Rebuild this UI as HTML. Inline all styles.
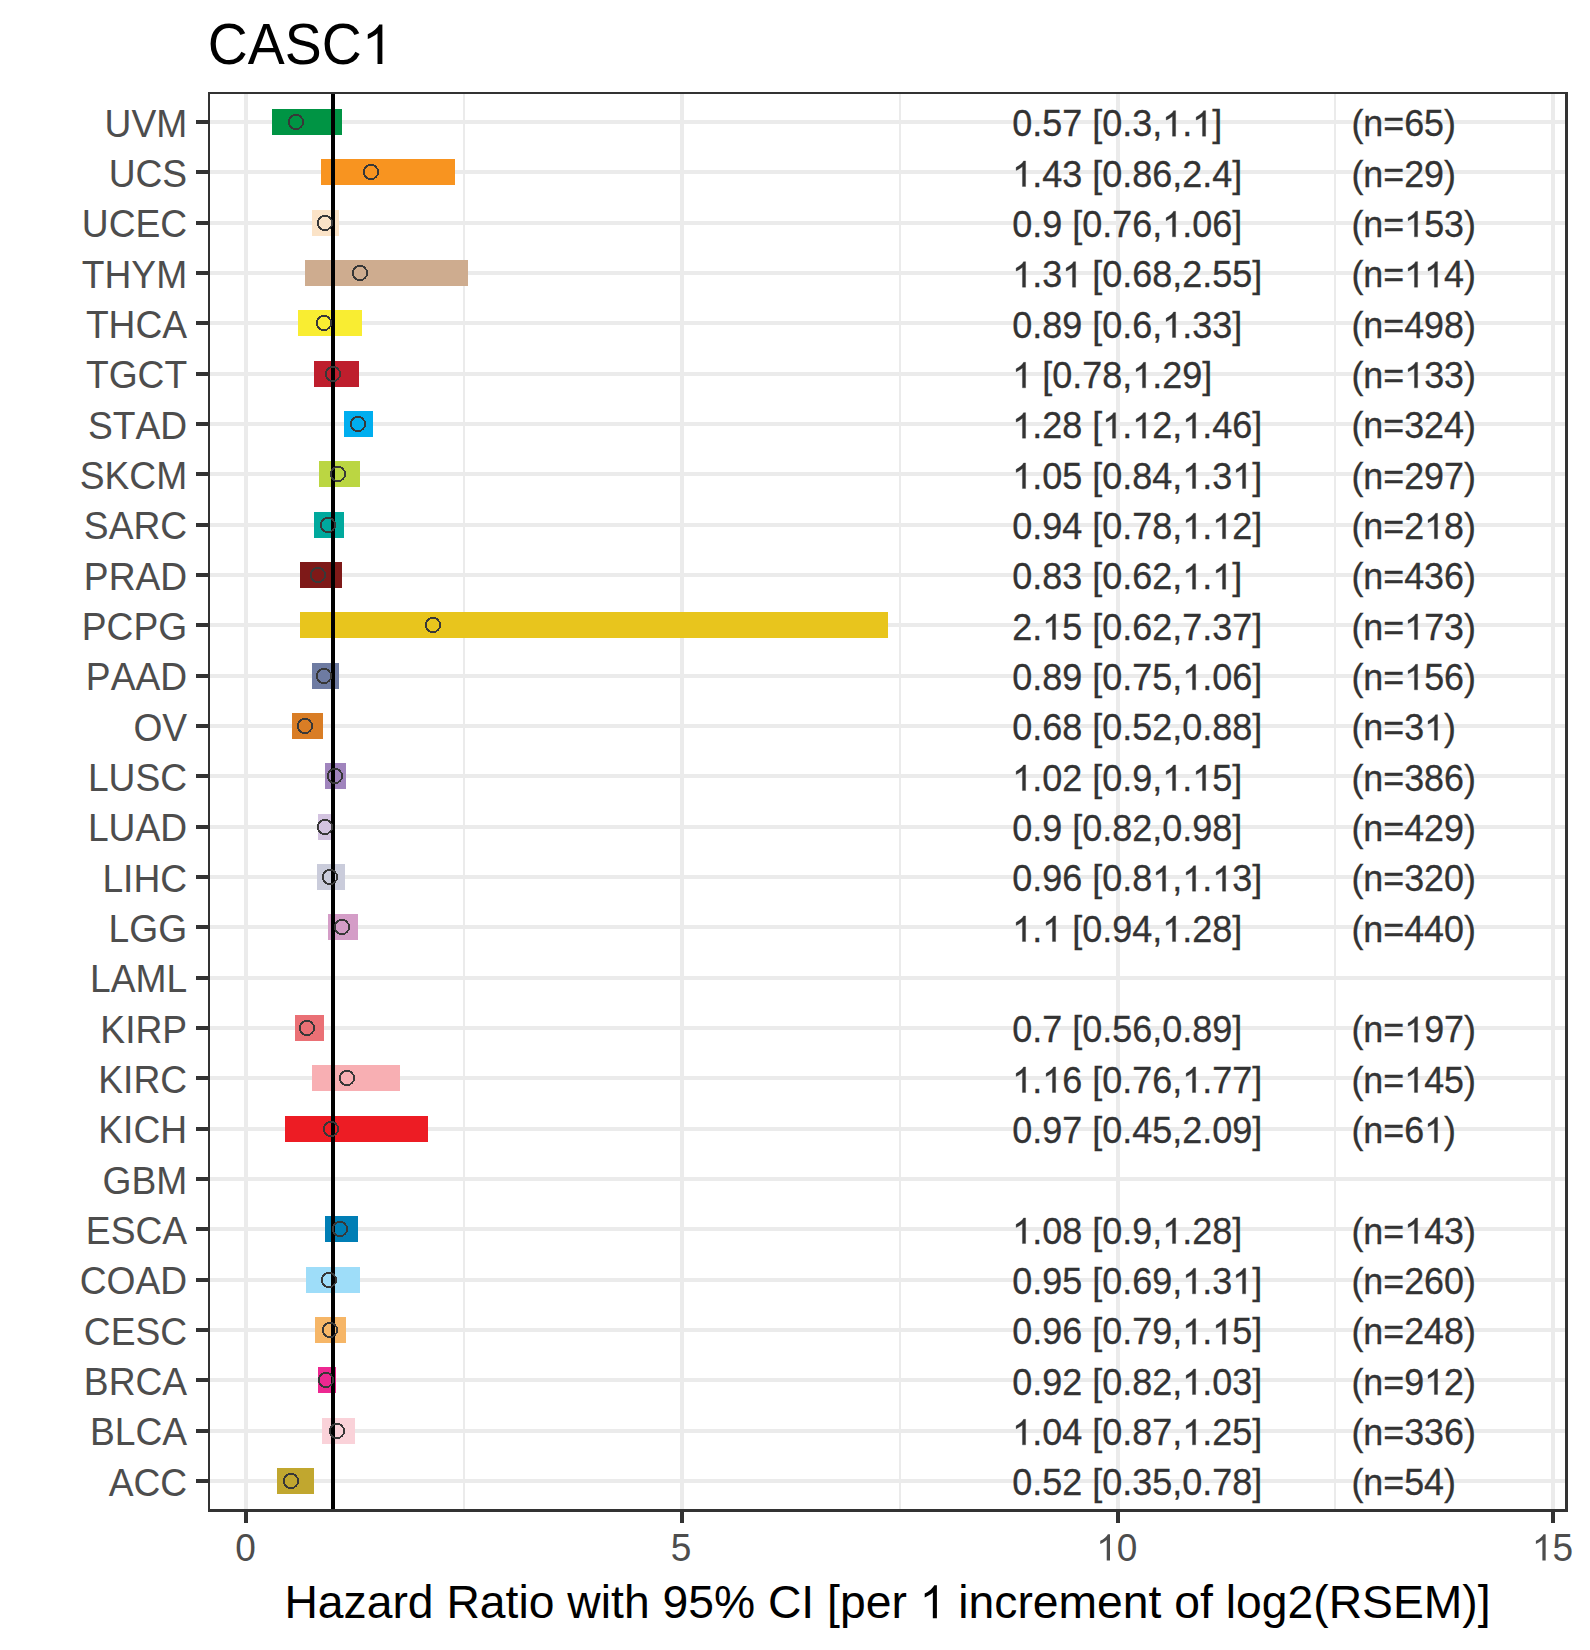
<!DOCTYPE html>
<html><head><meta charset="utf-8"><title>CASC1</title>
<style>
html,body{margin:0;padding:0;background:#fff;}
body{width:1590px;height:1650px;overflow:hidden;}
svg{display:block;}
text{font-family:"Liberation Sans",sans-serif;font-kerning:none;}
.ax{font-size:36.67px;fill:#4d4d4d;}
.an{font-size:35.57px;fill:#333333;stroke:#333333;stroke-width:0.3px;}
</style></head><body>
<svg width="1590" height="1650" viewBox="0 0 1590 1650">
<rect x="0" y="0" width="1590" height="1650" fill="#ffffff"/>
<g fill="#ebebeb" shape-rendering="crispEdges">
<rect x="463.00" y="94" width="2" height="1416"/>
<rect x="899.00" y="94" width="2" height="1416"/>
<rect x="1334.00" y="94" width="2" height="1416"/>
<rect x="244.00" y="94" width="4" height="1416"/>
<rect x="680.00" y="94" width="4" height="1416"/>
<rect x="1116.00" y="94" width="4" height="1416"/>
<rect x="1551.00" y="94" width="4" height="1416"/>
<rect x="210" y="120.00" width="1356" height="4"/>
<rect x="210" y="170.00" width="1356" height="4"/>
<rect x="210" y="221.00" width="1356" height="4"/>
<rect x="210" y="271.00" width="1356" height="4"/>
<rect x="210" y="321.00" width="1356" height="4"/>
<rect x="210" y="372.00" width="1356" height="4"/>
<rect x="210" y="422.00" width="1356" height="4"/>
<rect x="210" y="472.00" width="1356" height="4"/>
<rect x="210" y="523.00" width="1356" height="4"/>
<rect x="210" y="573.00" width="1356" height="4"/>
<rect x="210" y="623.00" width="1356" height="4"/>
<rect x="210" y="674.00" width="1356" height="4"/>
<rect x="210" y="724.00" width="1356" height="4"/>
<rect x="210" y="774.00" width="1356" height="4"/>
<rect x="210" y="825.00" width="1356" height="4"/>
<rect x="210" y="875.00" width="1356" height="4"/>
<rect x="210" y="925.00" width="1356" height="4"/>
<rect x="210" y="976.00" width="1356" height="4"/>
<rect x="210" y="1026.00" width="1356" height="4"/>
<rect x="210" y="1076.00" width="1356" height="4"/>
<rect x="210" y="1127.00" width="1356" height="4"/>
<rect x="210" y="1177.00" width="1356" height="4"/>
<rect x="210" y="1227.00" width="1356" height="4"/>
<rect x="210" y="1278.00" width="1356" height="4"/>
<rect x="210" y="1328.00" width="1356" height="4"/>
<rect x="210" y="1378.00" width="1356" height="4"/>
<rect x="210" y="1429.00" width="1356" height="4"/>
<rect x="210" y="1479.00" width="1356" height="4"/>
</g>
<g shape-rendering="crispEdges">
<rect x="272" y="109" width="70" height="26" fill="#009444"/>
<rect x="321" y="159" width="134" height="26" fill="#F89420"/>
<rect x="312" y="210" width="27" height="26" fill="#FBE3C7"/>
<rect x="305" y="260" width="163" height="26" fill="#CEAC8F"/>
<rect x="298" y="310" width="64" height="26" fill="#F9ED32"/>
<rect x="314" y="361" width="45" height="26" fill="#BE1E2D"/>
<rect x="344" y="411" width="29" height="26" fill="#00AEEF"/>
<rect x="319" y="461" width="41" height="26" fill="#BBD642"/>
<rect x="314" y="512" width="30" height="26" fill="#00A99D"/>
<rect x="300" y="562" width="42" height="26" fill="#7E1918"/>
<rect x="300" y="612" width="588" height="26" fill="#E8C51D"/>
<rect x="312" y="663" width="27" height="26" fill="#6E7BA2"/>
<rect x="292" y="713" width="31" height="26" fill="#D97D25"/>
<rect x="325" y="763" width="21" height="26" fill="#A084BD"/>
<rect x="318" y="814" width="14" height="26" fill="#D3C3E0"/>
<rect x="317" y="864" width="28" height="26" fill="#CACCDB"/>
<rect x="328" y="914" width="30" height="26" fill="#D49DC7"/>
<rect x="295" y="1015" width="29" height="26" fill="#EA7075"/>
<rect x="312" y="1065" width="88" height="26" fill="#F8AFB3"/>
<rect x="285" y="1116" width="143" height="26" fill="#ED1C24"/>
<rect x="325" y="1216" width="33" height="26" fill="#007EB5"/>
<rect x="306" y="1267" width="54" height="26" fill="#9EDDF9"/>
<rect x="315" y="1317" width="31" height="26" fill="#F6B667"/>
<rect x="318" y="1367" width="18" height="26" fill="#ED2891"/>
<rect x="322" y="1418" width="33" height="26" fill="#FAD2D9"/>
<rect x="277" y="1468" width="37" height="26" fill="#C1A72F"/>
</g>
<rect x="331.00" y="92" width="4" height="1420" fill="#000" shape-rendering="crispEdges"/>
<g fill="none" stroke="#383838" stroke-width="1.9" shape-rendering="crispEdges">
<circle cx="296" cy="122" r="7.1"/>
<circle cx="371" cy="172" r="7.1"/>
<circle cx="325" cy="223" r="7.1"/>
<circle cx="360" cy="273" r="7.1"/>
<circle cx="324" cy="323" r="7.1"/>
<circle cx="333" cy="374" r="7.1"/>
<circle cx="358" cy="424" r="7.1"/>
<circle cx="338" cy="474" r="7.1"/>
<circle cx="328" cy="525" r="7.1"/>
<circle cx="318" cy="575" r="7.1"/>
<circle cx="433" cy="625" r="7.1"/>
<circle cx="324" cy="676" r="7.1"/>
<circle cx="305" cy="726" r="7.1"/>
<circle cx="335" cy="776" r="7.1"/>
<circle cx="325" cy="827" r="7.1"/>
<circle cx="330" cy="877" r="7.1"/>
<circle cx="342" cy="927" r="7.1"/>
<circle cx="307" cy="1028" r="7.1"/>
<circle cx="347" cy="1078" r="7.1"/>
<circle cx="331" cy="1129" r="7.1"/>
<circle cx="340" cy="1229" r="7.1"/>
<circle cx="329" cy="1280" r="7.1"/>
<circle cx="330" cy="1330" r="7.1"/>
<circle cx="326" cy="1380" r="7.1"/>
<circle cx="337" cy="1431" r="7.1"/>
<circle cx="291" cy="1481" r="7.1"/>
</g>
<g class="an">
<g transform="translate(1012.20,136.20)"><text text-anchor="start" transform="scale(1.0115,1.045)" x="0.00 19.78 29.66 49.45 69.23 79.11 88.99 108.78 118.66 138.44 148.32 168.11 177.99 197.77">0.57 [0.3, . ]</text><path transform="translate(150.03,0) scale(0.01757,-0.01737)" d="M763 0H583V1147Q518 1085 412.5 1023T223 930V1104Q374 1175 487 1276T647 1472H763Z" stroke-width="17.3"/><path transform="translate(180.04,0) scale(0.01757,-0.01737)" d="M763 0H583V1147Q518 1085 412.5 1023T223 930V1104Q374 1175 487 1276T647 1472H763Z" stroke-width="17.3"/></g><text text-anchor="start" transform="translate(1351.40,136.20) scale(1.008,1.045)">(n=65)</text>
<g transform="translate(1012.20,186.53)"><text text-anchor="start" transform="scale(1.0115,1.045)" x="0.00 19.78 29.66 49.45 69.23 79.11 88.99 108.78 118.66 138.44 158.22 168.11 187.89 197.77 217.55"> .43 [0.86,2.4]</text><path transform="translate(0.00,0) scale(0.01757,-0.01737)" d="M763 0H583V1147Q518 1085 412.5 1023T223 930V1104Q374 1175 487 1276T647 1472H763Z" stroke-width="17.3"/></g><text text-anchor="start" transform="translate(1351.40,186.53) scale(1.008,1.045)">(n=29)</text>
<g transform="translate(1012.20,236.87)"><text text-anchor="start" transform="scale(1.0115,1.045)" x="0.00 19.78 29.66 49.45 59.33 69.21 88.99 98.88 118.66 138.44 148.32 168.11 177.99 197.77 217.55">0.9 [0.76, .06]</text><path transform="translate(150.03,0) scale(0.01757,-0.01737)" d="M763 0H583V1147Q518 1085 412.5 1023T223 930V1104Q374 1175 487 1276T647 1472H763Z" stroke-width="17.3"/></g><g transform="translate(1351.40,236.87)"><text text-anchor="start" transform="scale(1.008,1.045)" x="0.00 11.85 31.63 52.40 72.18 91.96 111.75">(n= 53)</text><path transform="translate(52.82,0) scale(0.01751,-0.01737)" d="M763 0H583V1147Q518 1085 412.5 1023T223 930V1104Q374 1175 487 1276T647 1472H763Z" stroke-width="17.3"/></g>
<g transform="translate(1012.20,287.20)"><text text-anchor="start" transform="scale(1.0115,1.045)" x="0.00 19.78 29.66 49.45 69.23 79.11 88.99 108.78 118.66 138.44 158.22 168.11 187.89 197.77 217.55 237.34"> .3  [0.68,2.55]</text><path transform="translate(0.00,0) scale(0.01757,-0.01737)" d="M763 0H583V1147Q518 1085 412.5 1023T223 930V1104Q374 1175 487 1276T647 1472H763Z" stroke-width="17.3"/><path transform="translate(50.02,0) scale(0.01757,-0.01737)" d="M763 0H583V1147Q518 1085 412.5 1023T223 930V1104Q374 1175 487 1276T647 1472H763Z" stroke-width="17.3"/></g><g transform="translate(1351.40,287.20)"><text text-anchor="start" transform="scale(1.008,1.045)" x="0.00 11.85 31.63 52.40 72.18 91.96 111.75">(n=  4)</text><path transform="translate(52.82,0) scale(0.01751,-0.01737)" d="M763 0H583V1147Q518 1085 412.5 1023T223 930V1104Q374 1175 487 1276T647 1472H763Z" stroke-width="17.3"/><path transform="translate(72.76,0) scale(0.01751,-0.01737)" d="M763 0H583V1147Q518 1085 412.5 1023T223 930V1104Q374 1175 487 1276T647 1472H763Z" stroke-width="17.3"/></g>
<g transform="translate(1012.20,337.53)"><text text-anchor="start" transform="scale(1.0115,1.045)" x="0.00 19.78 29.66 49.45 69.23 79.11 88.99 108.78 118.66 138.44 148.32 168.11 177.99 197.77 217.55">0.89 [0.6, .33]</text><path transform="translate(150.03,0) scale(0.01757,-0.01737)" d="M763 0H583V1147Q518 1085 412.5 1023T223 930V1104Q374 1175 487 1276T647 1472H763Z" stroke-width="17.3"/></g><text text-anchor="start" transform="translate(1351.40,337.53) scale(1.008,1.045)">(n=498)</text>
<g transform="translate(1012.20,387.87)"><text text-anchor="start" transform="scale(1.0115,1.045)" x="0.00 19.78 29.66 39.55 59.33 69.21 88.99 108.78 118.66 138.44 148.32 168.11 187.89">  [0.78, .29]</text><path transform="translate(0.00,0) scale(0.01757,-0.01737)" d="M763 0H583V1147Q518 1085 412.5 1023T223 930V1104Q374 1175 487 1276T647 1472H763Z" stroke-width="17.3"/><path transform="translate(120.02,0) scale(0.01757,-0.01737)" d="M763 0H583V1147Q518 1085 412.5 1023T223 930V1104Q374 1175 487 1276T647 1472H763Z" stroke-width="17.3"/></g><g transform="translate(1351.40,387.87)"><text text-anchor="start" transform="scale(1.008,1.045)" x="0.00 11.85 31.63 52.40 72.18 91.96 111.75">(n= 33)</text><path transform="translate(52.82,0) scale(0.01751,-0.01737)" d="M763 0H583V1147Q518 1085 412.5 1023T223 930V1104Q374 1175 487 1276T647 1472H763Z" stroke-width="17.3"/></g>
<g transform="translate(1012.20,438.20)"><text text-anchor="start" transform="scale(1.0115,1.045)" x="0.00 19.78 29.66 49.45 69.23 79.11 88.99 108.78 118.66 138.44 158.22 168.11 187.89 197.77 217.55 237.34"> .28 [ . 2, .46]</text><path transform="translate(0.00,0) scale(0.01757,-0.01737)" d="M763 0H583V1147Q518 1085 412.5 1023T223 930V1104Q374 1175 487 1276T647 1472H763Z" stroke-width="17.3"/><path transform="translate(90.02,0) scale(0.01757,-0.01737)" d="M763 0H583V1147Q518 1085 412.5 1023T223 930V1104Q374 1175 487 1276T647 1472H763Z" stroke-width="17.3"/><path transform="translate(120.02,0) scale(0.01757,-0.01737)" d="M763 0H583V1147Q518 1085 412.5 1023T223 930V1104Q374 1175 487 1276T647 1472H763Z" stroke-width="17.3"/><path transform="translate(170.04,0) scale(0.01757,-0.01737)" d="M763 0H583V1147Q518 1085 412.5 1023T223 930V1104Q374 1175 487 1276T647 1472H763Z" stroke-width="17.3"/></g><text text-anchor="start" transform="translate(1351.40,438.20) scale(1.008,1.045)">(n=324)</text>
<g transform="translate(1012.20,488.53)"><text text-anchor="start" transform="scale(1.0115,1.045)" x="0.00 19.78 29.66 49.45 69.23 79.11 88.99 108.78 118.66 138.44 158.22 168.11 187.89 197.77 217.55 237.34"> .05 [0.84, .3 ]</text><path transform="translate(0.00,0) scale(0.01757,-0.01737)" d="M763 0H583V1147Q518 1085 412.5 1023T223 930V1104Q374 1175 487 1276T647 1472H763Z" stroke-width="17.3"/><path transform="translate(170.04,0) scale(0.01757,-0.01737)" d="M763 0H583V1147Q518 1085 412.5 1023T223 930V1104Q374 1175 487 1276T647 1472H763Z" stroke-width="17.3"/><path transform="translate(220.06,0) scale(0.01757,-0.01737)" d="M763 0H583V1147Q518 1085 412.5 1023T223 930V1104Q374 1175 487 1276T647 1472H763Z" stroke-width="17.3"/></g><text text-anchor="start" transform="translate(1351.40,488.53) scale(1.008,1.045)">(n=297)</text>
<g transform="translate(1012.20,538.87)"><text text-anchor="start" transform="scale(1.0115,1.045)" x="0.00 19.78 29.66 49.45 69.23 79.11 88.99 108.78 118.66 138.44 158.22 168.11 187.89 197.77 217.55 237.34">0.94 [0.78, . 2]</text><path transform="translate(170.04,0) scale(0.01757,-0.01737)" d="M763 0H583V1147Q518 1085 412.5 1023T223 930V1104Q374 1175 487 1276T647 1472H763Z" stroke-width="17.3"/><path transform="translate(200.05,0) scale(0.01757,-0.01737)" d="M763 0H583V1147Q518 1085 412.5 1023T223 930V1104Q374 1175 487 1276T647 1472H763Z" stroke-width="17.3"/></g><g transform="translate(1351.40,538.87)"><text text-anchor="start" transform="scale(1.008,1.045)" x="0.00 11.85 31.63 52.40 72.18 91.96 111.75">(n=2 8)</text><path transform="translate(72.76,0) scale(0.01751,-0.01737)" d="M763 0H583V1147Q518 1085 412.5 1023T223 930V1104Q374 1175 487 1276T647 1472H763Z" stroke-width="17.3"/></g>
<g transform="translate(1012.20,589.20)"><text text-anchor="start" transform="scale(1.0115,1.045)" x="0.00 19.78 29.66 49.45 69.23 79.11 88.99 108.78 118.66 138.44 158.22 168.11 187.89 197.77 217.55">0.83 [0.62, . ]</text><path transform="translate(170.04,0) scale(0.01757,-0.01737)" d="M763 0H583V1147Q518 1085 412.5 1023T223 930V1104Q374 1175 487 1276T647 1472H763Z" stroke-width="17.3"/><path transform="translate(200.05,0) scale(0.01757,-0.01737)" d="M763 0H583V1147Q518 1085 412.5 1023T223 930V1104Q374 1175 487 1276T647 1472H763Z" stroke-width="17.3"/></g><text text-anchor="start" transform="translate(1351.40,589.20) scale(1.008,1.045)">(n=436)</text>
<g transform="translate(1012.20,639.53)"><text text-anchor="start" transform="scale(1.0115,1.045)" x="0.00 19.78 29.66 49.45 69.23 79.11 88.99 108.78 118.66 138.44 158.22 168.11 187.89 197.77 217.55 237.34">2. 5 [0.62,7.37]</text><path transform="translate(30.01,0) scale(0.01757,-0.01737)" d="M763 0H583V1147Q518 1085 412.5 1023T223 930V1104Q374 1175 487 1276T647 1472H763Z" stroke-width="17.3"/></g><g transform="translate(1351.40,639.53)"><text text-anchor="start" transform="scale(1.008,1.045)" x="0.00 11.85 31.63 52.40 72.18 91.96 111.75">(n= 73)</text><path transform="translate(52.82,0) scale(0.01751,-0.01737)" d="M763 0H583V1147Q518 1085 412.5 1023T223 930V1104Q374 1175 487 1276T647 1472H763Z" stroke-width="17.3"/></g>
<g transform="translate(1012.20,689.87)"><text text-anchor="start" transform="scale(1.0115,1.045)" x="0.00 19.78 29.66 49.45 69.23 79.11 88.99 108.78 118.66 138.44 158.22 168.11 187.89 197.77 217.55 237.34">0.89 [0.75, .06]</text><path transform="translate(170.04,0) scale(0.01757,-0.01737)" d="M763 0H583V1147Q518 1085 412.5 1023T223 930V1104Q374 1175 487 1276T647 1472H763Z" stroke-width="17.3"/></g><g transform="translate(1351.40,689.87)"><text text-anchor="start" transform="scale(1.008,1.045)" x="0.00 11.85 31.63 52.40 72.18 91.96 111.75">(n= 56)</text><path transform="translate(52.82,0) scale(0.01751,-0.01737)" d="M763 0H583V1147Q518 1085 412.5 1023T223 930V1104Q374 1175 487 1276T647 1472H763Z" stroke-width="17.3"/></g>
<text text-anchor="start" transform="translate(1012.20,740.20) scale(1.0115,1.045)">0.68 [0.52,0.88]</text><g transform="translate(1351.40,740.20)"><text text-anchor="start" transform="scale(1.008,1.045)" x="0.00 11.85 31.63 52.40 72.18 91.96">(n=3 )</text><path transform="translate(72.76,0) scale(0.01751,-0.01737)" d="M763 0H583V1147Q518 1085 412.5 1023T223 930V1104Q374 1175 487 1276T647 1472H763Z" stroke-width="17.3"/></g>
<g transform="translate(1012.20,790.53)"><text text-anchor="start" transform="scale(1.0115,1.045)" x="0.00 19.78 29.66 49.45 69.23 79.11 88.99 108.78 118.66 138.44 148.32 168.11 177.99 197.77 217.55"> .02 [0.9, . 5]</text><path transform="translate(0.00,0) scale(0.01757,-0.01737)" d="M763 0H583V1147Q518 1085 412.5 1023T223 930V1104Q374 1175 487 1276T647 1472H763Z" stroke-width="17.3"/><path transform="translate(150.03,0) scale(0.01757,-0.01737)" d="M763 0H583V1147Q518 1085 412.5 1023T223 930V1104Q374 1175 487 1276T647 1472H763Z" stroke-width="17.3"/><path transform="translate(180.04,0) scale(0.01757,-0.01737)" d="M763 0H583V1147Q518 1085 412.5 1023T223 930V1104Q374 1175 487 1276T647 1472H763Z" stroke-width="17.3"/></g><text text-anchor="start" transform="translate(1351.40,790.53) scale(1.008,1.045)">(n=386)</text>
<text text-anchor="start" transform="translate(1012.20,840.87) scale(1.0115,1.045)">0.9 [0.82,0.98]</text><text text-anchor="start" transform="translate(1351.40,840.87) scale(1.008,1.045)">(n=429)</text>
<g transform="translate(1012.20,891.20)"><text text-anchor="start" transform="scale(1.0115,1.045)" x="0.00 19.78 29.66 49.45 69.23 79.11 88.99 108.78 118.66 138.44 158.22 168.11 187.89 197.77 217.55 237.34">0.96 [0.8 , . 3]</text><path transform="translate(140.03,0) scale(0.01757,-0.01737)" d="M763 0H583V1147Q518 1085 412.5 1023T223 930V1104Q374 1175 487 1276T647 1472H763Z" stroke-width="17.3"/><path transform="translate(170.04,0) scale(0.01757,-0.01737)" d="M763 0H583V1147Q518 1085 412.5 1023T223 930V1104Q374 1175 487 1276T647 1472H763Z" stroke-width="17.3"/><path transform="translate(200.05,0) scale(0.01757,-0.01737)" d="M763 0H583V1147Q518 1085 412.5 1023T223 930V1104Q374 1175 487 1276T647 1472H763Z" stroke-width="17.3"/></g><text text-anchor="start" transform="translate(1351.40,891.20) scale(1.008,1.045)">(n=320)</text>
<g transform="translate(1012.20,941.53)"><text text-anchor="start" transform="scale(1.0115,1.045)" x="0.00 19.78 29.66 49.45 59.33 69.21 88.99 98.88 118.66 138.44 148.32 168.11 177.99 197.77 217.55"> .  [0.94, .28]</text><path transform="translate(0.00,0) scale(0.01757,-0.01737)" d="M763 0H583V1147Q518 1085 412.5 1023T223 930V1104Q374 1175 487 1276T647 1472H763Z" stroke-width="17.3"/><path transform="translate(30.01,0) scale(0.01757,-0.01737)" d="M763 0H583V1147Q518 1085 412.5 1023T223 930V1104Q374 1175 487 1276T647 1472H763Z" stroke-width="17.3"/><path transform="translate(150.03,0) scale(0.01757,-0.01737)" d="M763 0H583V1147Q518 1085 412.5 1023T223 930V1104Q374 1175 487 1276T647 1472H763Z" stroke-width="17.3"/></g><text text-anchor="start" transform="translate(1351.40,941.53) scale(1.008,1.045)">(n=440)</text>
<text text-anchor="start" transform="translate(1012.20,1042.20) scale(1.0115,1.045)">0.7 [0.56,0.89]</text><g transform="translate(1351.40,1042.20)"><text text-anchor="start" transform="scale(1.008,1.045)" x="0.00 11.85 31.63 52.40 72.18 91.96 111.75">(n= 97)</text><path transform="translate(52.82,0) scale(0.01751,-0.01737)" d="M763 0H583V1147Q518 1085 412.5 1023T223 930V1104Q374 1175 487 1276T647 1472H763Z" stroke-width="17.3"/></g>
<g transform="translate(1012.20,1092.53)"><text text-anchor="start" transform="scale(1.0115,1.045)" x="0.00 19.78 29.66 49.45 69.23 79.11 88.99 108.78 118.66 138.44 158.22 168.11 187.89 197.77 217.55 237.34"> . 6 [0.76, .77]</text><path transform="translate(0.00,0) scale(0.01757,-0.01737)" d="M763 0H583V1147Q518 1085 412.5 1023T223 930V1104Q374 1175 487 1276T647 1472H763Z" stroke-width="17.3"/><path transform="translate(30.01,0) scale(0.01757,-0.01737)" d="M763 0H583V1147Q518 1085 412.5 1023T223 930V1104Q374 1175 487 1276T647 1472H763Z" stroke-width="17.3"/><path transform="translate(170.04,0) scale(0.01757,-0.01737)" d="M763 0H583V1147Q518 1085 412.5 1023T223 930V1104Q374 1175 487 1276T647 1472H763Z" stroke-width="17.3"/></g><g transform="translate(1351.40,1092.53)"><text text-anchor="start" transform="scale(1.008,1.045)" x="0.00 11.85 31.63 52.40 72.18 91.96 111.75">(n= 45)</text><path transform="translate(52.82,0) scale(0.01751,-0.01737)" d="M763 0H583V1147Q518 1085 412.5 1023T223 930V1104Q374 1175 487 1276T647 1472H763Z" stroke-width="17.3"/></g>
<text text-anchor="start" transform="translate(1012.20,1142.87) scale(1.0115,1.045)">0.97 [0.45,2.09]</text><g transform="translate(1351.40,1142.87)"><text text-anchor="start" transform="scale(1.008,1.045)" x="0.00 11.85 31.63 52.40 72.18 91.96">(n=6 )</text><path transform="translate(72.76,0) scale(0.01751,-0.01737)" d="M763 0H583V1147Q518 1085 412.5 1023T223 930V1104Q374 1175 487 1276T647 1472H763Z" stroke-width="17.3"/></g>
<g transform="translate(1012.20,1243.53)"><text text-anchor="start" transform="scale(1.0115,1.045)" x="0.00 19.78 29.66 49.45 69.23 79.11 88.99 108.78 118.66 138.44 148.32 168.11 177.99 197.77 217.55"> .08 [0.9, .28]</text><path transform="translate(0.00,0) scale(0.01757,-0.01737)" d="M763 0H583V1147Q518 1085 412.5 1023T223 930V1104Q374 1175 487 1276T647 1472H763Z" stroke-width="17.3"/><path transform="translate(150.03,0) scale(0.01757,-0.01737)" d="M763 0H583V1147Q518 1085 412.5 1023T223 930V1104Q374 1175 487 1276T647 1472H763Z" stroke-width="17.3"/></g><g transform="translate(1351.40,1243.53)"><text text-anchor="start" transform="scale(1.008,1.045)" x="0.00 11.85 31.63 52.40 72.18 91.96 111.75">(n= 43)</text><path transform="translate(52.82,0) scale(0.01751,-0.01737)" d="M763 0H583V1147Q518 1085 412.5 1023T223 930V1104Q374 1175 487 1276T647 1472H763Z" stroke-width="17.3"/></g>
<g transform="translate(1012.20,1293.87)"><text text-anchor="start" transform="scale(1.0115,1.045)" x="0.00 19.78 29.66 49.45 69.23 79.11 88.99 108.78 118.66 138.44 158.22 168.11 187.89 197.77 217.55 237.34">0.95 [0.69, .3 ]</text><path transform="translate(170.04,0) scale(0.01757,-0.01737)" d="M763 0H583V1147Q518 1085 412.5 1023T223 930V1104Q374 1175 487 1276T647 1472H763Z" stroke-width="17.3"/><path transform="translate(220.06,0) scale(0.01757,-0.01737)" d="M763 0H583V1147Q518 1085 412.5 1023T223 930V1104Q374 1175 487 1276T647 1472H763Z" stroke-width="17.3"/></g><text text-anchor="start" transform="translate(1351.40,1293.87) scale(1.008,1.045)">(n=260)</text>
<g transform="translate(1012.20,1344.20)"><text text-anchor="start" transform="scale(1.0115,1.045)" x="0.00 19.78 29.66 49.45 69.23 79.11 88.99 108.78 118.66 138.44 158.22 168.11 187.89 197.77 217.55 237.34">0.96 [0.79, . 5]</text><path transform="translate(170.04,0) scale(0.01757,-0.01737)" d="M763 0H583V1147Q518 1085 412.5 1023T223 930V1104Q374 1175 487 1276T647 1472H763Z" stroke-width="17.3"/><path transform="translate(200.05,0) scale(0.01757,-0.01737)" d="M763 0H583V1147Q518 1085 412.5 1023T223 930V1104Q374 1175 487 1276T647 1472H763Z" stroke-width="17.3"/></g><text text-anchor="start" transform="translate(1351.40,1344.20) scale(1.008,1.045)">(n=248)</text>
<g transform="translate(1012.20,1394.53)"><text text-anchor="start" transform="scale(1.0115,1.045)" x="0.00 19.78 29.66 49.45 69.23 79.11 88.99 108.78 118.66 138.44 158.22 168.11 187.89 197.77 217.55 237.34">0.92 [0.82, .03]</text><path transform="translate(170.04,0) scale(0.01757,-0.01737)" d="M763 0H583V1147Q518 1085 412.5 1023T223 930V1104Q374 1175 487 1276T647 1472H763Z" stroke-width="17.3"/></g><g transform="translate(1351.40,1394.53)"><text text-anchor="start" transform="scale(1.008,1.045)" x="0.00 11.85 31.63 52.40 72.18 91.96 111.75">(n=9 2)</text><path transform="translate(72.76,0) scale(0.01751,-0.01737)" d="M763 0H583V1147Q518 1085 412.5 1023T223 930V1104Q374 1175 487 1276T647 1472H763Z" stroke-width="17.3"/></g>
<g transform="translate(1012.20,1444.87)"><text text-anchor="start" transform="scale(1.0115,1.045)" x="0.00 19.78 29.66 49.45 69.23 79.11 88.99 108.78 118.66 138.44 158.22 168.11 187.89 197.77 217.55 237.34"> .04 [0.87, .25]</text><path transform="translate(0.00,0) scale(0.01757,-0.01737)" d="M763 0H583V1147Q518 1085 412.5 1023T223 930V1104Q374 1175 487 1276T647 1472H763Z" stroke-width="17.3"/><path transform="translate(170.04,0) scale(0.01757,-0.01737)" d="M763 0H583V1147Q518 1085 412.5 1023T223 930V1104Q374 1175 487 1276T647 1472H763Z" stroke-width="17.3"/></g><text text-anchor="start" transform="translate(1351.40,1444.87) scale(1.008,1.045)">(n=336)</text>
<text text-anchor="start" transform="translate(1012.20,1495.20) scale(1.0115,1.045)">0.52 [0.35,0.78]</text><text text-anchor="start" transform="translate(1351.40,1495.20) scale(1.008,1.045)">(n=54)</text>
</g>
<g shape-rendering="crispEdges">
<rect x="208" y="92" width="2" height="1420" fill="#333333"/>
<rect x="208" y="92" width="1360" height="2" fill="#333333"/>
<rect x="1565" y="92" width="3" height="1420" fill="#333333"/>
<rect x="208" y="1509" width="1360" height="3" fill="#333333"/>
</g>
<g fill="#333333" shape-rendering="crispEdges">
<rect x="196" y="120.00" width="12" height="4"/>
<rect x="196" y="170.00" width="12" height="4"/>
<rect x="196" y="221.00" width="12" height="4"/>
<rect x="196" y="271.00" width="12" height="4"/>
<rect x="196" y="321.00" width="12" height="4"/>
<rect x="196" y="372.00" width="12" height="4"/>
<rect x="196" y="422.00" width="12" height="4"/>
<rect x="196" y="472.00" width="12" height="4"/>
<rect x="196" y="523.00" width="12" height="4"/>
<rect x="196" y="573.00" width="12" height="4"/>
<rect x="196" y="623.00" width="12" height="4"/>
<rect x="196" y="674.00" width="12" height="4"/>
<rect x="196" y="724.00" width="12" height="4"/>
<rect x="196" y="774.00" width="12" height="4"/>
<rect x="196" y="825.00" width="12" height="4"/>
<rect x="196" y="875.00" width="12" height="4"/>
<rect x="196" y="925.00" width="12" height="4"/>
<rect x="196" y="976.00" width="12" height="4"/>
<rect x="196" y="1026.00" width="12" height="4"/>
<rect x="196" y="1076.00" width="12" height="4"/>
<rect x="196" y="1127.00" width="12" height="4"/>
<rect x="196" y="1177.00" width="12" height="4"/>
<rect x="196" y="1227.00" width="12" height="4"/>
<rect x="196" y="1278.00" width="12" height="4"/>
<rect x="196" y="1328.00" width="12" height="4"/>
<rect x="196" y="1378.00" width="12" height="4"/>
<rect x="196" y="1429.00" width="12" height="4"/>
<rect x="196" y="1479.00" width="12" height="4"/>
<rect x="244.00" y="1512" width="4" height="11"/>
<rect x="680.00" y="1512" width="4" height="11"/>
<rect x="1116.00" y="1512" width="4" height="11"/>
<rect x="1551.00" y="1512" width="4" height="11"/>
</g>
<g class="ax" text-anchor="end">
<text transform="translate(187.2,136.80) scale(1.015,1.04)">UVM</text>
<text transform="translate(187.2,187.13) scale(1.015,1.04)">UCS</text>
<text transform="translate(187.2,237.47) scale(1.015,1.04)">UCEC</text>
<text transform="translate(187.2,287.80) scale(1.015,1.04)">THYM</text>
<text transform="translate(187.2,338.13) scale(1.015,1.04)">THCA</text>
<text transform="translate(187.2,388.47) scale(1.015,1.04)">TGCT</text>
<text transform="translate(187.2,438.80) scale(1.015,1.04)">STAD</text>
<text transform="translate(187.2,489.13) scale(1.015,1.04)">SKCM</text>
<text transform="translate(187.2,539.47) scale(1.015,1.04)">SARC</text>
<text transform="translate(187.2,589.80) scale(1.015,1.04)">PRAD</text>
<text transform="translate(187.2,640.13) scale(1.015,1.04)">PCPG</text>
<text transform="translate(187.2,690.47) scale(1.015,1.04)">PAAD</text>
<text transform="translate(187.2,740.80) scale(1.015,1.04)">OV</text>
<text transform="translate(187.2,791.13) scale(1.015,1.04)">LUSC</text>
<text transform="translate(187.2,841.47) scale(1.015,1.04)">LUAD</text>
<text transform="translate(187.2,891.80) scale(1.015,1.04)">LIHC</text>
<text transform="translate(187.2,942.13) scale(1.015,1.04)">LGG</text>
<text transform="translate(187.2,992.47) scale(1.015,1.04)">LAML</text>
<text transform="translate(187.2,1042.80) scale(1.015,1.04)">KIRP</text>
<text transform="translate(187.2,1093.13) scale(1.015,1.04)">KIRC</text>
<text transform="translate(187.2,1143.47) scale(1.015,1.04)">KICH</text>
<text transform="translate(187.2,1193.80) scale(1.015,1.04)">GBM</text>
<text transform="translate(187.2,1244.13) scale(1.015,1.04)">ESCA</text>
<text transform="translate(187.2,1294.47) scale(1.015,1.04)">COAD</text>
<text transform="translate(187.2,1344.80) scale(1.015,1.04)">CESC</text>
<text transform="translate(187.2,1395.13) scale(1.015,1.04)">BRCA</text>
<text transform="translate(187.2,1445.47) scale(1.015,1.04)">BLCA</text>
<text transform="translate(187.2,1495.80) scale(1.015,1.04)">ACC</text>
</g>
<g class="ax" text-anchor="middle">
<text text-anchor="middle" transform="translate(245.50,1560.60) scale(1.01,1.04)">0</text>
<text text-anchor="middle" transform="translate(681.15,1560.60) scale(1.01,1.04)">5</text>
<g transform="translate(1116.80,1560.60)"><text text-anchor="start" transform="scale(1.01,1.04)" x="-20.39 0.00"> 0</text><path transform="translate(-20.60,0) scale(0.01808,-0.01791)" d="M763 0H583V1147Q518 1085 412.5 1023T223 930V1104Q374 1175 487 1276T647 1472H763Z" stroke="none"/></g>
<g transform="translate(1552.45,1560.60)"><text text-anchor="start" transform="scale(1.01,1.04)" x="-20.39 0.00"> 5</text><path transform="translate(-20.60,0) scale(0.01808,-0.01791)" d="M763 0H583V1147Q518 1085 412.5 1023T223 930V1104Q374 1175 487 1276T647 1472H763Z" stroke="none"/></g>
</g>
<g transform="translate(207.70,64.00)" font-size="55" fill="#000"><text text-anchor="start" transform="scale(1.008,1.045)" x="0.00 39.72 76.40 113.09 152.81">CASC </text><path transform="translate(154.03,0) scale(0.02707,-0.02686)" d="M763 0H583V1147Q518 1085 412.5 1023T223 930V1104Q374 1175 487 1276T647 1472H763Z" stroke="none"/></g>
<g transform="translate(887.50,1618.20)" font-size="45.83" fill="#000"><text text-anchor="start" transform="scale(1.0097,1.01)" x="-597.30 -564.20 -538.72 -515.80 -490.31 -475.05 -449.56 -436.83 -403.73 -378.24 -365.51 -355.33 -329.84 -317.11 -284.01 -273.83 -261.09 -235.61 -222.87 -197.38 -171.90 -131.15 -118.41 -85.32 -72.58 -59.85 -47.12 -21.63 3.86 19.12 31.85 57.34 70.08 80.26 105.75 128.66 143.92 169.41 207.59 233.08 258.57 271.30 284.03 309.52 322.25 334.99 345.17 370.66 396.15 421.63 436.90 469.99 500.56 531.13 569.31 584.57">Hazard Ratio with 95% CI [per   increment of log2(RSEM)]</text><path transform="translate(32.16,0) scale(0.02259,-0.02238)" d="M763 0H583V1147Q518 1085 412.5 1023T223 930V1104Q374 1175 487 1276T647 1472H763Z" stroke="none"/></g>
</svg>
</body></html>
